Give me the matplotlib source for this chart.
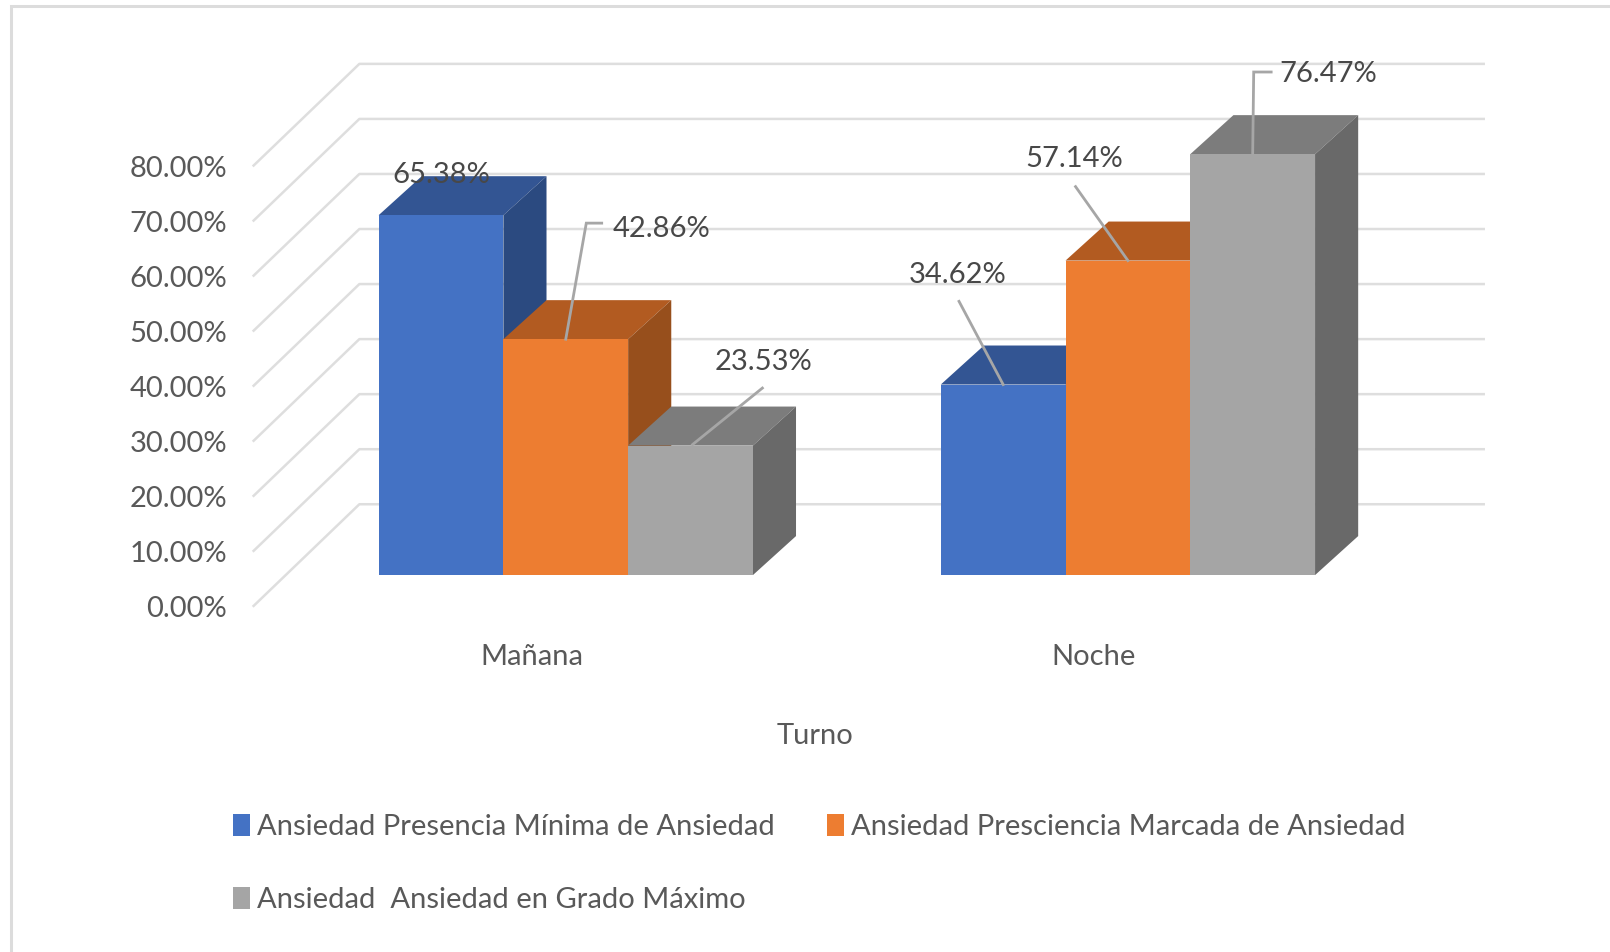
import matplotlib
matplotlib.use('Agg')
import matplotlib.pyplot as plt
from matplotlib.patches import Polygon

plt.rcParams['font.family'] = ['Lato', 'Liberation Sans', 'DejaVu Sans']

# ==== DATA ====
turnos = ['Mañana', 'Noche']
series = ['Ansiedad Presencia Mínima de Ansiedad',
          'Ansiedad Presciencia Marcada de Ansiedad',
          'Ansiedad  Ansiedad en Grado Máximo']
minima = [65.38, 34.62]
marcada = [42.86, 57.14]
maximo = [23.53, 76.47]
ticks = [0, 10, 20, 30, 40, 50, 60, 70, 80]

# ==== STYLE ====
front = ['#4472C4', '#ED7D31', '#A5A5A5']
top = ['#335593', '#B25B21', '#7C7C7C']
side = ['#2B4A80', '#974F1C', '#696969']
text_col = '#595959'
grid_col = '#DEDEDE'
leader_col = '#A6A6A6'
fs = 21

# axes units: group centres at 0 and 1, y in percent
px_x = 1 / 547.5
px_y = 1 / 5.36
bar_w = 121.5 * px_x
depth_x = 42 * px_x
depth_y = 38 * px_y

# offsets from the top centre of each bar, in reference pixels
label_off = [[(0, 39), (93, 107), (71, 81)],
             [(-44, 107), (-52, 99), (74, 78)]]
leader_off = [[None, [(0, 0), (20, 113), (35, 113)], [(2, 1), (70, 56)]],
              [[(0, 0), (-43, 81)], [(0, 0), (-51, 72)], [(0, 0), (1, 80), (18, 80)]]]

fig = plt.figure(figsize=(16.10, 9.52), dpi=100)
ax = fig.add_axes([0, 0, 1, 1])
ax.set_xlim(-551 * px_x, 1017 * px_x)
ax.set_ylim(-367 * px_y, 560 * px_y)
ax.axis('off')

# picture border
ax.plot([0.0068, 0.0068, 1], [0, 0.994, 0.994], transform=ax.transAxes,
        color='#DCDCDC', lw=2.2, solid_joinstyle='miter')

# walls
wall_left = -201 * px_x
wall_right = 894 * px_x
wall_front = -304 * px_x
for t in ticks:
    ax.plot([wall_front, wall_left, wall_right],
            [t - 30 * px_y, t + 69 * px_y, t + 69 * px_y],
            color=grid_col, lw=1.8, zorder=1)
    ax.text(wall_front - 26 * px_x, t - 33 * px_y, f'{t:.2f}%', ha='right', va='center',
            fontsize=fs, color=text_col, zorder=1)

# bars
values = [minima, marcada, maximo]
handles = []
for g in range(len(turnos)):
    for s, vals in enumerate(values):
        x0 = g + (s - 1.5) * bar_w
        v = vals[g]
        b = ax.bar(x0, v, width=bar_w, align='edge', color=front[s], zorder=3 + s * 2)
        if g == 0:
            handles.append(b[0])
        ax.add_patch(Polygon([(x0, v), (x0 + depth_x, v + depth_y),
                              (x0 + bar_w + depth_x, v + depth_y), (x0 + bar_w, v)],
                             color=top[s], lw=0, zorder=2 + s * 2))
        ax.add_patch(Polygon([(x0 + bar_w, 0), (x0 + bar_w + depth_x, depth_y),
                              (x0 + bar_w + depth_x, v + depth_y), (x0 + bar_w, v)],
                             color=side[s], lw=0, zorder=2 + s * 2))

# value labels and leader lines
for g in range(len(turnos)):
    for s, vals in enumerate(values):
        cx = g + (s - 1) * bar_w
        v = vals[g]
        dx, dy = label_off[g][s]
        ax.text(cx + dx * px_x, v + dy * px_y, f'{v:.2f}%', ha='center', va='center',
                fontsize=fs, color='#484848', zorder=20)
        if leader_off[g][s]:
            xs = [cx + p[0] * px_x for p in leader_off[g][s]]
            ys = [v + p[1] * px_y for p in leader_off[g][s]]
            ax.plot(xs, ys, color=leader_col, lw=2, zorder=19, solid_joinstyle='miter')

# category labels and axis title
for g, name in enumerate(turnos):
    ax.text(g - 33 * px_x, -80 * px_y, name, ha='center', va='center',
            fontsize=fs, color=text_col)
ax.text(243 * px_x, -157 * px_y, 'Turno', ha='center', va='center', fontsize=fs, color=text_col)

order = [0, 2, 1]
leg = ax.legend([handles[i] for i in order], [series[i] for i in order], ncol=2,
                loc='upper left', bbox_to_anchor=(0.1445, 0.1448),
                frameon=False, borderaxespad=0, borderpad=0, fontsize=fs,
                handlelength=0.58, handleheight=0.78, handletextpad=0.25,
                columnspacing=1.8, labelspacing=1.61, labelcolor=text_col)

fig.savefig('out.png', dpi=100, facecolor='white')
